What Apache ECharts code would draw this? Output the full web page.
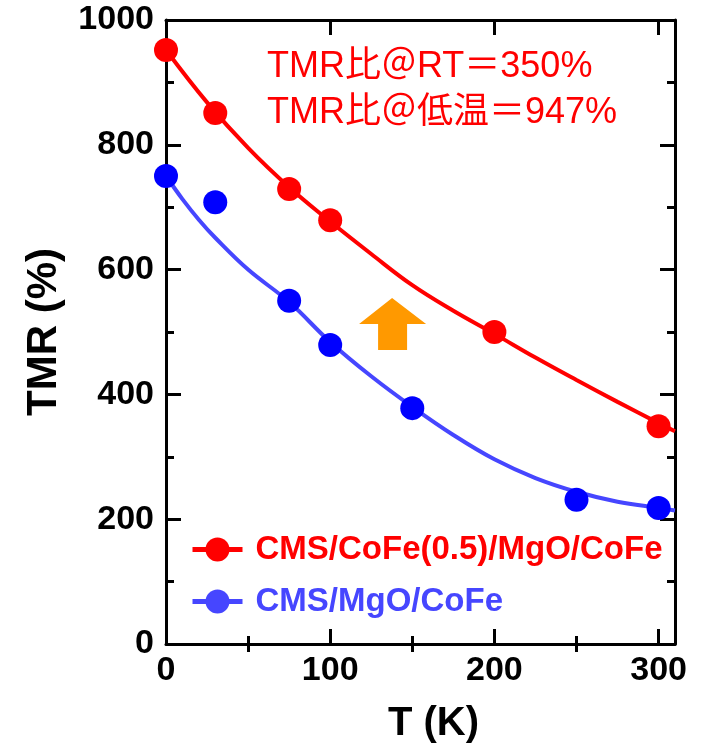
<!DOCTYPE html>
<html>
<head>
<meta charset="utf-8">
<script src="https://cdn.jsdelivr.net/npm/echarts@6/dist/echarts.min.js"></script>
<style>
  html, body { margin: 0; padding: 0; background: #fff; }
  #chart { width: 708px; height: 749px; }
</style>
</head>
<body>
<div id="chart"></div>
<script>
// measured points
const redT = [0, 30, 75, 100, 200, 300];
const redTMR = [952, 851, 729, 679, 500, 349];
const blueT = [0, 30, 75, 100, 150, 250, 300];
const blueTMR = [750, 708, 550, 479, 378, 231, 218];

// fitted curves
const redFitT = [0, 25, 50, 75, 100, 125, 150, 175, 200, 225, 250, 275, 300, 310];
const redFit = [952, 868, 795, 732, 677, 625, 575, 534, 497, 459, 423, 388, 354, 341];
const blueFitT = [0, 10, 20, 30, 50, 75, 100, 125, 150, 175, 200, 225, 250, 275, 300, 310];
const blueFit = [750, 713, 680, 651, 600, 548, 484, 429, 380, 335, 296, 266, 244, 228, 218, 214];

const redName = "CMS/CoFe(0.5)/MgO/CoFe";
const blueName = "CMS/MgO/CoFe";
const notes = ["TMR比＠RT＝350%", "TMR比＠低温＝947%"];
const arrowAt = [138, 513];

const xMajor = [0, 100, 200, 300];
const xMinor = [50, 150, 250];

const zip = (a, b) => a.map((v, i) => [v, b[i]]);
const font = "'Liberation Sans', Arial, sans-serif";
const cjkFont = "'Liberation Sans', 'Noto Sans CJK JP', sans-serif";

const RED = "#ff0000";
const BLUE_DOT = "#0000ff";
const BLUE_LINE = "#4646ff";

const chart = echarts.init(document.getElementById("chart"));

const lineStyleAxis = { show: true, onZero: false, lineStyle: { color: "#000", width: 3 } };

function xAxisOf(pos, ticks, len, withLine, withLabel) {
    return {
        type: "value",
        position: pos,
        min: 0,
        max: 310,
        interval: 100,
        axisLine: withLine ? lineStyleAxis : { show: false },
        axisTick: { show: true, inside: true, length: len, customValues: ticks, lineStyle: { color: "#000", width: 3 } },
        axisLabel: withLabel ? {
            show: true, customValues: xMajor, margin: 10,
            color: "#000", fontSize: 34, fontWeight: "bold", fontFamily: font
        } : { show: false },
        splitLine: { show: false },
        minorTick: { show: false }
    };
}

const xBottom = xAxisOf("bottom", xMajor, 15, true, true);
xBottom.name = "T (K)";
xBottom.nameLocation = "middle";
xBottom.nameGap = 60;
xBottom.nameTextStyle = { color: "#000", fontSize: 40, fontWeight: "bold", fontFamily: font, padding: [0, 0, 0, 26] };

function yAxisOf(pos, withLabel) {
    const ax = {
        type: "value",
        position: pos,
        min: 0,
        max: 1000,
        interval: 200,
        axisLine: lineStyleAxis,
        axisTick: { show: true, inside: true, length: 15, lineStyle: { color: "#000", width: 3 } },
        minorTick: { show: true, splitNumber: 2, length: 8, lineStyle: { color: "#000", width: 3 } },
        axisLabel: withLabel ? {
            show: true, margin: 12, color: "#000", fontSize: 34, fontWeight: "bold", fontFamily: font,
            formatter: v => String(v)
        } : { show: false },
        splitLine: { show: false },
        minorSplitLine: { show: false }
    };
    if (withLabel) {
        ax.name = "TMR (%)";
        ax.nameLocation = "middle";
        ax.nameGap = 101;
        ax.nameTextStyle = { color: "#000", fontSize: 42, fontWeight: "bold", fontFamily: font };
    }
    return ax;
}

const arrowPath = "path://M33,0 L67,26 L48,26 L48,52 L19,52 L19,26 L0,26 Z";

const option = {
    backgroundColor: "#fff",
    animation: false,
    grid: { left: 166, right: 33, top: 20, bottom: 105, containLabel: false },
    xAxis: [
        xBottom,
        xAxisOf("bottom", xMinor, 8, false, false),
        xAxisOf("top", xMajor, 15, true, false),
        xAxisOf("top", xMinor, 8, false, false)
    ],
    yAxis: [yAxisOf("left", true), yAxisOf("right", false)],
    legend: {
        orient: "vertical",
        left: 185,
        top: 528,
        itemWidth: 50,
        itemHeight: 30,
        itemGap: 19,
        lineStyle: { width: 5 },
        textStyle: { fontSize: 33, fontWeight: "bold", fontFamily: font, padding: [0, 0, 0, 8] },
        data: [
            { name: redName, textStyle: { color: RED } },
            { name: blueName, textStyle: { color: BLUE_LINE } }
        ]
    },
    graphic: notes.map((t, i) => ({
        type: "text",
        left: 267,
        top: 49 + i * 46,
        style: { text: t, fill: RED, font: "36px " + cjkFont }
    })),
    series: [
        {
            name: redName,
            type: "line",
            smooth: 0.4,
            symbol: "circle",
            showSymbol: false,
            symbolSize: 24,
            itemStyle: { color: RED },
            lineStyle: { color: RED, width: 4 },
            data: zip(redFitT, redFit),
            z: 2
        },
        {
            name: blueName,
            type: "line",
            smooth: 0.4,
            symbol: "circle",
            showSymbol: false,
            symbolSize: 24,
            itemStyle: { color: BLUE_LINE },
            lineStyle: { color: BLUE_LINE, width: 4 },
            data: zip(blueFitT, blueFit),
            markPoint: {
                symbol: arrowPath,
                symbolSize: [67, 52],
                symbolKeepAspect: false,
                itemStyle: { color: "#ff9900" },
                label: { show: false },
                data: [{ coord: arrowAt }]
            },
            z: 2
        },
        {
            type: "scatter",
            symbolSize: 24,
            itemStyle: { color: RED, opacity: 1 },
            data: zip(redT, redTMR),
            z: 3
        },
        {
            type: "scatter",
            symbolSize: 24,
            itemStyle: { color: BLUE_DOT, opacity: 1 },
            data: zip(blueT, blueTMR),
            z: 3
        }
    ]
};
chart.setOption(option);
</script>
</body>
</html>
